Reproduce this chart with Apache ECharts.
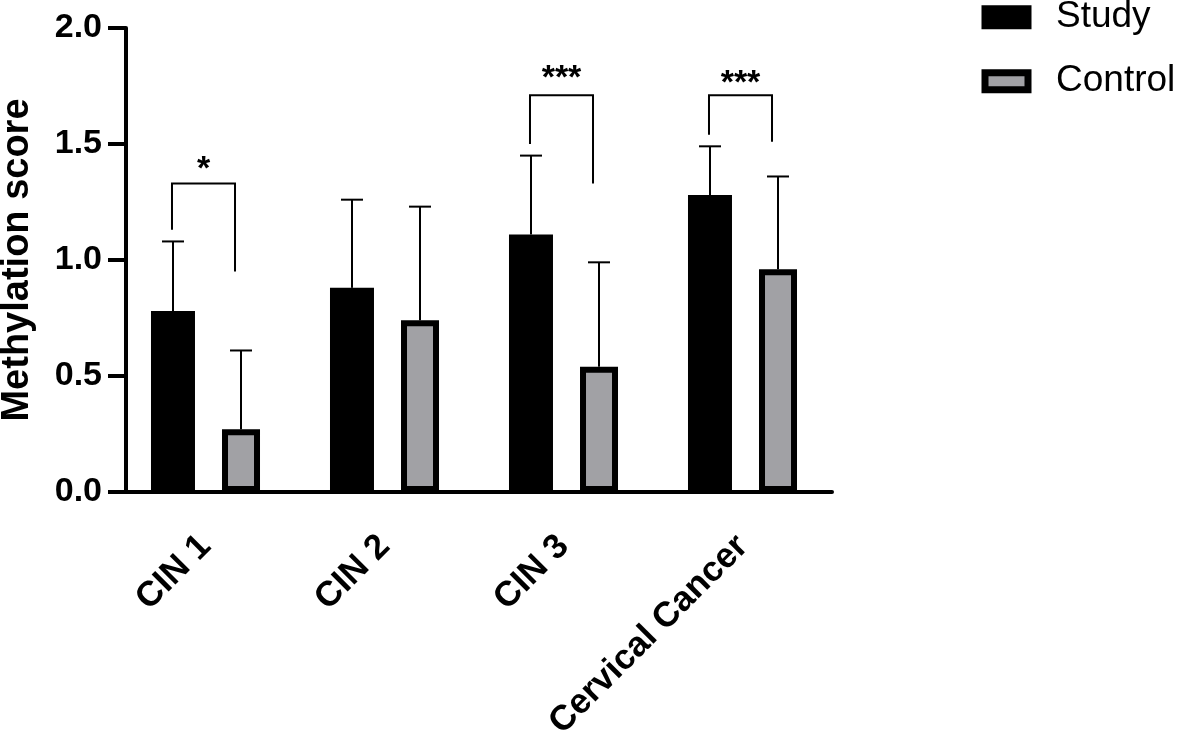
<!DOCTYPE html>
<html>
<head>
<meta charset="utf-8">
<title>Methylation score</title>
<script src="https://cdn.jsdelivr.net/npm/echarts@6/dist/echarts.min.js"></script>
<style>
  html, body { margin: 0; padding: 0; background: #fff; }
  #chart { width: 1180px; height: 746px; }
</style>
</head>
<body>
<div id="chart"></div>
<script>
// ---- data ----
var categories = ['CIN 1', 'CIN 2', 'CIN 3', 'Cervical Cancer'];
var studyMean = [0.78, 0.88, 1.11, 1.28];
var studyUpper = [1.08, 1.26, 1.45, 1.49];   // mean + SD
var controlMean = [0.27, 0.74, 0.54, 0.96];
var controlUpper = [0.61, 1.23, 0.99, 1.36];

// significance brackets
var sigCats = [0, 2, 3];
var sigTop = [1.33, 1.71, 1.71];
var sigLeftEnd = [1.13, 1.50, 1.54];
var sigRightEnd = [0.95, 1.33, 1.51];
var sigStarY = [1.39, 1.78, 1.76];
var sigLabel = ['*', '***', '***'];

var FONT = "'Liberation Sans', Arial, Helvetica, sans-serif";

// bar layout (px), error bars are placed from these
var studyW = 44, controlW = 38, controlBorder = 6;
var gapPct = 0.614;
var groupW = studyW * (1 + gapPct) + controlW;
var studyOffset = -groupW / 2 + studyW / 2;
var controlOffset = -groupW / 2 + studyW * (1 + gapPct) + controlW / 2;

function errData(mean, upper) {
	var out = [];
	for (var i = 0; i < mean.length; i++) {
		out.push([i, mean[i], upper[i]]);
	}
	return out;
}

function errRender(offset) {
	return function (params, api) {
		var c = api.value(0);
		var p0 = api.coord([c, api.value(1)]);
		var p1 = api.coord([c, api.value(2)]);
		var x = p0[0] + offset;
		return {
			type: 'group',
			children: [
				{ type: 'line', shape: { x1: x, y1: p0[1], x2: x, y2: p1[1] }, style: { stroke: '#000', lineWidth: 2 } },
				{ type: 'line', shape: { x1: x - 11, y1: p1[1], x2: x + 11, y2: p1[1] }, style: { stroke: '#000', lineWidth: 2 } }
			]
		};
	};
}

var sigData = [];
for (var i = 0; i < sigCats.length; i++) {
	sigData.push([sigCats[i], sigTop[i], sigLeftEnd[i], sigRightEnd[i], sigStarY[i]]);
}

var myChart = echarts.init(document.getElementById('chart'));
var option = {
	animation: false,
	grid: {
		left: 116,
		top: 28,
		width: 716,
		bottom: 254,
		containLabel: false,
		outerBoundsMode: 'none'
	},
	legend: {
		orient: 'vertical',
		left: 981.5,
		top: -1.3,
		padding: 0,
		itemWidth: 43,
		itemHeight: 17,
		itemGap: 27,
		icon: 'rect',
		itemStyle: { borderWidth: 7, borderColor: '#000' },
		textStyle: { fontFamily: FONT, fontSize: 37, color: '#000', lineHeight: 17, padding: [0, 0, 0, 23] },
		data: ['Study', 'Control']
	},
	xAxis: {
		type: 'category',
		data: categories,
		axisLine: { lineStyle: { color: '#000', width: 4 } },
		axisTick: { alignWithLabel: true, length: 18, lineStyle: { color: '#000', width: 4 } },
		axisLabel: {
			rotate: 45,
			margin: 49,
			padding: [66, 0, 0, 0],
			color: '#000',
			fontFamily: FONT,
			fontWeight: 'bold',
			fontSize: 35,
			interval: 0
		}
	},
	yAxis: {
		type: 'value',
		min: 0,
		max: 2,
		interval: 0.5,
		offset: -10,
		name: 'Methylation score',
		nameLocation: 'middle',
		nameGap: 89,
		nameTextStyle: { fontFamily: FONT, fontWeight: 'bold', fontSize: 38, color: '#000' },
		splitLine: { show: false },
		axisLine: { show: true, lineStyle: { color: '#000', width: 4 } },
		axisTick: { show: true, length: 18, lineStyle: { color: '#000', width: 4 } },
		axisLabel: {
			margin: 24,
			color: '#000',
			fontFamily: FONT,
			fontWeight: 'bold',
			fontSize: 34,
			formatter: function (v) { return v.toFixed(1); }
		}
	},
	series: [
		{
			name: 'Study',
			type: 'bar',
			barWidth: studyW,
			barGap: (gapPct * 100) + '%',
			itemStyle: { color: '#000' },
			data: studyMean
		},
		{
			name: 'Control',
			type: 'bar',
			barWidth: controlW,
			barGap: (gapPct * 100) + '%',
			itemStyle: { color: '#a1a1a5', borderColor: '#000', borderWidth: controlBorder },
			data: controlMean
		},
		{
			type: 'custom',
			renderItem: errRender(studyOffset),
			data: errData(studyMean, studyUpper),
			z: 1
		},
		{
			type: 'custom',
			renderItem: errRender(controlOffset),
			data: errData(controlMean, controlUpper),
			z: 1
		},
		{
			type: 'custom',
			data: sigData,
			renderItem: function (params, api) {
				var c = api.value(0);
				var top = api.coord([c, api.value(1)]);
				var yl = api.coord([c, api.value(2)])[1];
				var yr = api.coord([c, api.value(3)])[1];
				var ys = api.coord([c, api.value(4)])[1];
				var xl = top[0] + studyOffset - 1;
				var xr = top[0] + controlOffset - 6;
				return {
					type: 'group',
					children: [
						{
							type: 'polyline',
							shape: { points: [[xl, yl], [xl, top[1]], [xr, top[1]], [xr, yr]] },
							style: { stroke: '#000', lineWidth: 2, fill: null }
						},
						{
							type: 'text',
							style: {
								text: sigLabel[params.dataIndex],
								x: (xl + xr) / 2,
								y: ys,
								align: 'center',
								verticalAlign: 'middle',
								fontFamily: FONT,
								fontWeight: 'bold',
								fontSize: 34,
								fill: '#000'
							}
						}
					]
				};
			}
		}
	]
};
myChart.setOption(option);
</script>
</body>
</html>
